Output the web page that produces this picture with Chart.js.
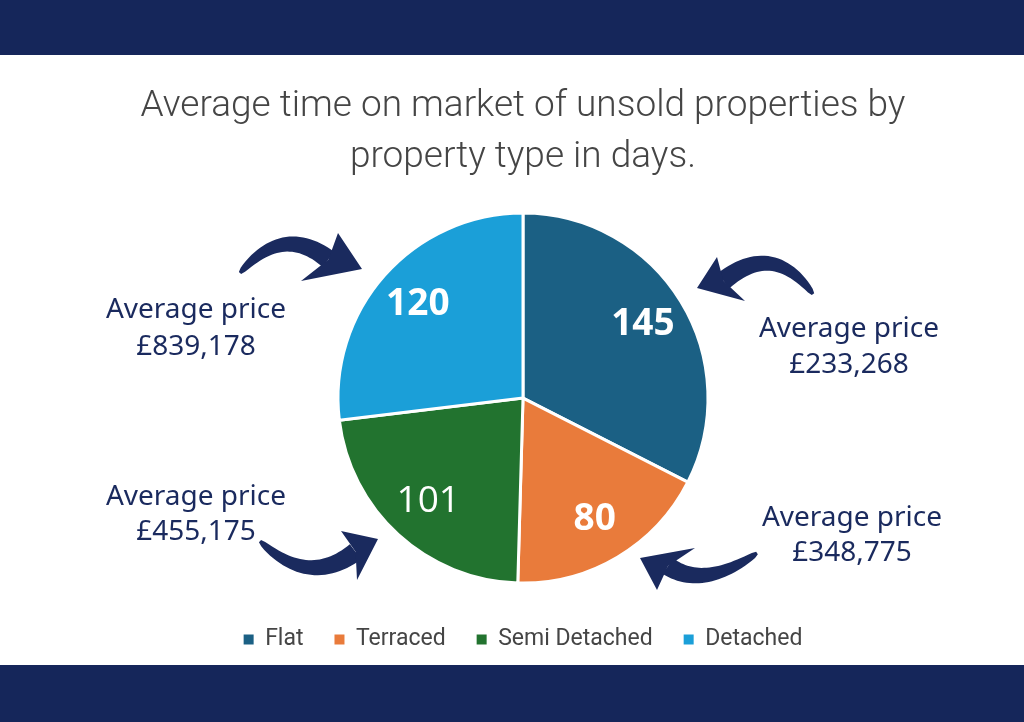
<!DOCTYPE html>
<html>
<head>
<meta charset="utf-8">
<style>
  html, body { margin: 0; padding: 0; background: #fff; }
  #wrap { position: relative; width: 1024px; height: 722px; overflow: hidden; }
  #pie { position: absolute; left: 0; top: 0; }
  .band { position: absolute; left: 0; width: 1024px; background: #15265a; }
</style>
<script src="https://cdn.jsdelivr.net/npm/chart.js"></script>
</head>
<body>
<div id="wrap">
  <canvas id="pie" width="1024" height="722"></canvas>
  <div class="band" style="top:0;height:55px"></div>
  <div class="band" style="top:665px;height:57px"></div>
</div>

<script>
    // values
    var categories = ['Flat', 'Terraced', 'Semi Detached', 'Detached'];
    var days = [145, 80, 101, 120];
    var avgPrices = ['£233,268', '£348,775', '£455,175', '£839,178'];
    var titleLines = ['Average time on market of unsold properties by', 'property type in days.'];

    var colors = ['#1b6084', '#e97b3b', '#22732f', '#1b9fd8'];
    var labelWeights = ['bold', 'bold', 'normal', 'bold'];
    var navy = '#1a2a5e';

    // callout text + arrow, offsets from the pie centre (one per category)
    var callouts = [
        { tx: 326, ty: [-61, -25], tail: [290, -104], ctrl: [250, -158], end: [207, -119], tip: [174, -110], a: [194, -141], b: [222, -97] },
        { tx: 329, ty: [128, 163], tail: [234, 155], ctrl: [180, 192], end: [152, 170], tip: [117, 160], a: [134, 192], b: [172, 150] },
        { tx: -327, ty: [107, 142], tail: [-263, 143], ctrl: [-215, 190], end: [-173, 157], tip: [-145, 141], a: [-166, 182], b: [-182, 133] },
        { tx: -327, ty: [-80, -43], tail: [-283, -125], ctrl: [-240, -175], end: [-203, -141], tip: [-161, -129], a: [-185, -165], b: [-222, -117] }
    ];

    function drawArrow(ctx, cx, cy, c) {
        var P = function (p) { return [cx + p[0], cy + p[1]]; };
        var tail = P(c.tail), ctrl = P(c.ctrl), end = P(c.end), tip = P(c.tip), a = P(c.a), b = P(c.b);
        var notch = [end[0] + (tip[0] - end[0]) * 0.2, end[1] + (tip[1] - end[1]) * 0.2];
        var left = [], right = [];
        var n = 30;
        for (var i = 0; i <= n; i++) {
            var t = i / n, u = 1 - t;
            var x = u * u * tail[0] + 2 * u * t * ctrl[0] + t * t * notch[0];
            var y = u * u * tail[1] + 2 * u * t * ctrl[1] + t * t * notch[1];
            var dx = 2 * u * (ctrl[0] - tail[0]) + 2 * t * (notch[0] - ctrl[0]);
            var dy = 2 * u * (ctrl[1] - tail[1]) + 2 * t * (notch[1] - ctrl[1]);
            var len = Math.sqrt(dx * dx + dy * dy) || 1;
            var w = (1.5 + 8 * Math.sqrt(t));
            left.push([x - dy / len * w, y + dx / len * w]);
            right.push([x + dy / len * w, y - dx / len * w]);
        }
        ctx.beginPath();
        ctx.moveTo(left[0][0], left[0][1]);
        for (var j = 1; j < left.length; j++) ctx.lineTo(left[j][0], left[j][1]);
        for (var k = right.length - 1; k >= 0; k--) ctx.lineTo(right[k][0], right[k][1]);
        ctx.closePath();
        ctx.fill();
        ctx.beginPath();
        ctx.moveTo(tip[0], tip[1]);
        ctx.lineTo(a[0], a[1]);
        ctx.lineTo(notch[0], notch[1]);
        ctx.lineTo(b[0], b[1]);
        ctx.closePath();
        ctx.fill();
    }

    var extras = {
        id: 'extras',
        afterDatasetsDraw: function (chart) {
            var ctx = chart.ctx;
            var meta = chart.getDatasetMeta(0);
            var first = meta.data[0];
            var cx = first.x, cy = first.y;
            ctx.save();
            // values inside the slices
            ctx.textAlign = 'center';
            ctx.textBaseline = 'middle';
            ctx.fillStyle = '#ffffff';
            meta.data.forEach(function (arc, i) {
                var mid = (arc.startAngle + arc.endAngle) / 2;
                var r = arc.outerRadius * 0.76;
                ctx.font = labelWeights[i] + ' 37px "Open Sans", sans-serif';
                ctx.fillText(String(days[i]), arc.x + Math.cos(mid) * r, arc.y + Math.sin(mid) * r);
            });
            // average price callouts
            ctx.fillStyle = navy;
            ctx.textBaseline = 'alphabetic';
            ctx.font = '28px "Noto Sans", "Open Sans", sans-serif';
            callouts.forEach(function (c, i) {
                ctx.fillText('Average price', cx + c.tx, cy + c.ty[0]);
                ctx.fillText(avgPrices[i], cx + c.tx, cy + c.ty[1]);
                drawArrow(ctx, cx, cy, c);
            });
            ctx.restore();
        }
    };

    var pieLabels = Chart.overrides.pie.plugins.legend.labels.generateLabels;

    new Chart(document.getElementById('pie'), {
        type: 'pie',
        data: {
            labels: categories,
            datasets: [{
                data: days,
                backgroundColor: colors,
                borderColor: '#ffffff',
                borderWidth: 3,
                radius: 185
            }]
        },
        options: {
            responsive: false,
            animation: false,
            layout: { padding: { top: 55, left: 22, right: 0, bottom: 61 } },
            plugins: {
                title: {
                    display: true,
                    text: titleLines,
                    color: '#454545',
                    font: { family: 'Roboto, "Liberation Sans", sans-serif', size: 37, weight: '300', lineHeight: 1.38 },
                    padding: { top: 26, bottom: 16 }
                },
                legend: {
                    position: 'bottom',
                    labels: {
                        boxWidth: 10,
                        boxHeight: 10,
                        padding: 31,
                        color: '#454545',
                        font: { family: 'Roboto, "Liberation Sans", sans-serif', size: 23 },
                        generateLabels: function (chart) {
                            return pieLabels(chart).map(function (l) { l.lineWidth = 0; return l; });
                        }
                    }
                },
                tooltip: { enabled: false }
            }
        },
        plugins: [extras]
    });
</script>
</body>
</html>
